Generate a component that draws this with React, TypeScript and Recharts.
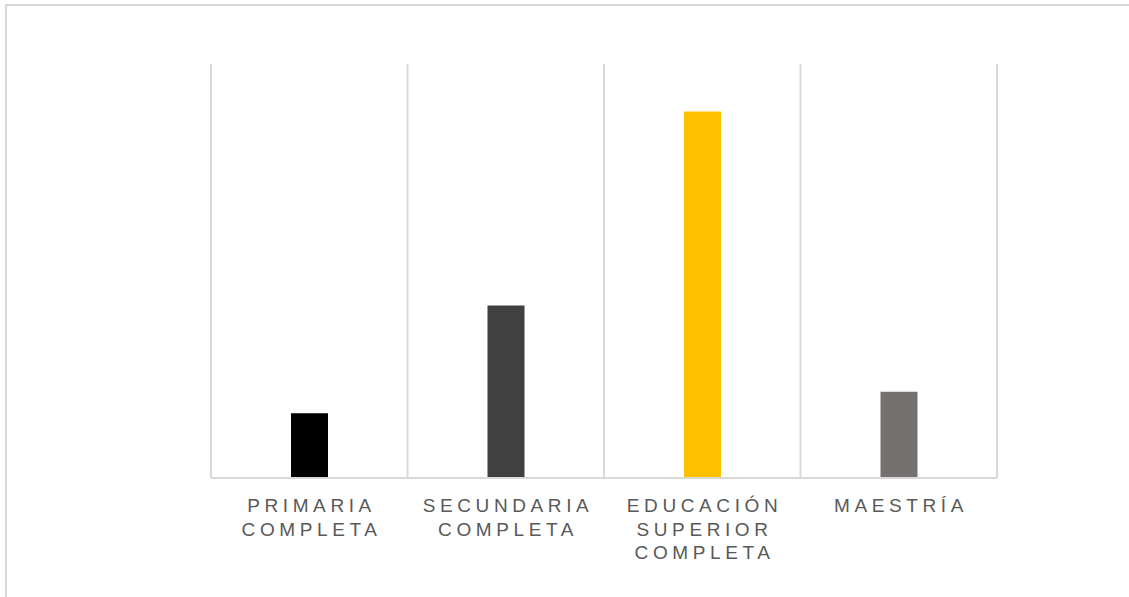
import { BarChart, Bar, XAxis, YAxis, CartesianGrid, Cell } from 'recharts';

const CATEGORIES = [
  'PRIMARIA COMPLETA',
  'SECUNDARIA COMPLETA',
  'EDUCACIÓN SUPERIOR COMPLETA',
  'MAESTRÍA',
];
const VALUES = [9.375, 25, 53.125, 12.5];
const COLORS = ['#000000', '#404040', '#FFC000', '#767171'];

const data = CATEGORIES.map((name, i) => ({ name, value: VALUES[i] }));

const GRID = '#d9d9d9';

function WrappedTick(props: any) {
  const { x, y, payload } = props;
  const lines = String(payload.value).split(' ');
  return (
    <text
      x={x}
      y={y}
      textAnchor="middle"
      fill="#595959"
      fontSize={19}
      fontFamily="'Liberation Sans', Arial, sans-serif"
      letterSpacing={4.6}
    >
      {lines.map((line, i) => (
        <tspan key={i} x={x + 2.3} dy={i === 0 ? 26 : 23.5}>
          {line}
        </tspan>
      ))}
    </text>
  );
}

export default function App() {
  return (
    <div style={{ position: 'fixed', inset: 0, overflow: 'hidden', background: '#fff' }}>
      <div
        style={{
          position: 'absolute',
          left: 5,
          top: 4,
          width: 1300,
          height: 800,
          border: `2px solid ${GRID}`,
        }}
      />
      <div style={{ position: 'absolute', left: 0, top: 0 }}>
        <BarChart
          width={1129}
          height={597}
          data={data}
          margin={{ top: 64, right: 132, bottom: 0, left: 211 }}
          barCategoryGap={0}
        >
          <CartesianGrid
            horizontal={false}
            stroke={GRID}
            strokeWidth={2}
            verticalCoordinatesGenerator={({ offset }: any) =>
              CATEGORIES.map((_, i) => offset.left + (i * offset.width) / CATEGORIES.length).concat(
                offset.left + offset.width
              )
            }
          />
          <XAxis
            dataKey="name"
            height={119}
            axisLine={{ stroke: GRID, strokeWidth: 2 }}
            tickLine={false}
            interval={0}
            tick={<WrappedTick />}
          />
          <YAxis hide domain={[0, 60]} />
          <Bar dataKey="value" barSize={37} isAnimationActive={false}>
            {data.map((_, i) => (
              <Cell key={i} fill={COLORS[i]} />
            ))}
          </Bar>
        </BarChart>
      </div>
    </div>
  );
}
